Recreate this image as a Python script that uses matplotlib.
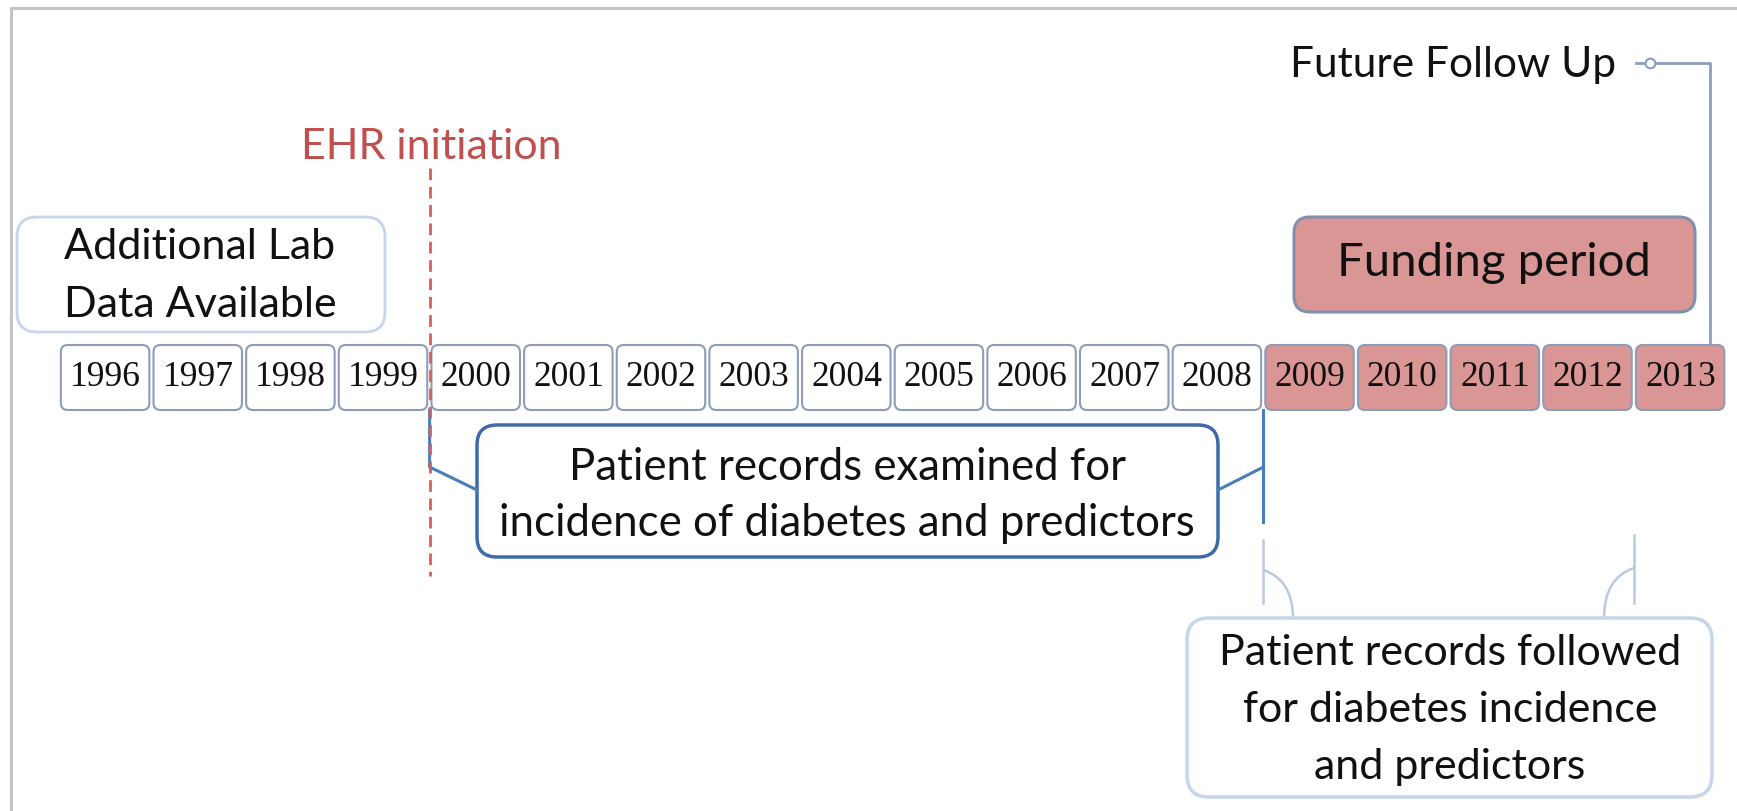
import matplotlib
matplotlib.use("Agg")
import matplotlib.pyplot as plt
from matplotlib.patches import FancyBboxPatch, PathPatch
from matplotlib.path import Path

# ---------------- data ----------------
years = list(range(1996, 2014))
funding_years = [2009, 2010, 2011, 2012, 2013]
ehr_year = 2000
examined_span = (2000, 2009)
followed_span = (2009, 2013)
future_label = "Future Follow Up"
ehr_label = "EHR initiation"
lab_lines = ["Additional Lab", "Data Available"]
funding_label = "Funding period"
examined_lines = ["Patient records examined for",
                  "incidence of diabetes and predictors"]
followed_lines = ["Patient records followed",
                  "for diabetes incidence",
                  "and predictors"]

# ---------------- layout ----------------
W, H = 1737, 811
PX0, PITCH = 59.0, 92.65          # pixel of year 1996 start, pixels per year
SANS = "Lato"
SERIF = "Liberation Serif"


def X(px):
    return 1996 + (px - PX0) / PITCH


fig = plt.figure(figsize=(W / 100, H / 100), dpi=100)
ax = fig.add_axes([0, 0, 1, 1])
ax.set_xlim(X(0), X(W))
ax.set_ylim(H, 0)
ax.axis("off")


def rbox(x0, y0, w, h, r, **kw):
    p = FancyBboxPatch((X(x0), y0), w / PITCH, h,
                       boxstyle=f"round,pad=0,rounding_size={r / PITCH}",
                       mutation_aspect=PITCH, **kw)
    ax.add_patch(p)
    return p


# frame
ax.plot([X(11), X(11), X(W + 5)], [H + 5, 8, 8], color="#c4c4c4", lw=2.2,
        solid_capstyle="butt", zorder=1)

# year boxes
for yr in years:
    fc = "#d99694" if yr in funding_years else "white"
    p = FancyBboxPatch((yr + 0.02, 345), 0.955, 65,
                       boxstyle=f"round,pad=0,rounding_size={7 / PITCH}",
                       mutation_aspect=PITCH, fc=fc, ec="#8d9cb8", lw=1.5,
                       zorder=2)
    ax.add_patch(p)
    ax.text(yr + 0.5, 377, str(yr), ha="center", va="center",
            fontsize=25.5, family=SERIF, color="#111111", zorder=3)

# Additional lab box
rbox(17, 217, 368, 115, 20, fc="white", ec="#c6d5e9", lw=2, zorder=2)
for txt, y in zip(lab_lines, [247, 305]):
    ax.text(X(200), y, txt, ha="center", va="center", fontsize=31,
            family=SANS, color="#111111", zorder=3)

# EHR initiation
ax.text(X(431), 147, ehr_label, ha="center", va="center", fontsize=31,
        family=SANS, color="#c0504d", zorder=3)
ax.plot([ehr_year, ehr_year], [168, 576], color="#d65f5c", lw=2,
        dashes=(4.2, 2.4), zorder=6)

# Funding period
rbox(1294, 217, 401, 95, 16, fc="#d99694", ec="#8190ae", lw=2.2, zorder=2)
ax.text(X(1494), 263, funding_label, ha="center", va="center", fontsize=34,
        family=SANS, color="#111111", zorder=3)

# Future follow up
ax.text(X(1616), 65, future_label, ha="right", va="center", fontsize=30.5,
        family=SANS, color="#111111", zorder=3)
ax.plot([X(1636), X(1710), X(1710)], [63, 63, 345], color="#8e9dbb", lw=2,
        zorder=1)
ax.plot([X(1650)], [63], "o", ms=7, mfc="white", mec="#8e9dbb", mew=1.5,
        zorder=4)

# Examined box + brackets
ex_c = "#4a7ebb"
a, b = examined_span
ax.plot([a, a, X(477)], [410, 467, 490], color=ex_c, lw=2.2, zorder=4)
ax.plot([b, b], [410, 522], color=ex_c, lw=2.2, zorder=4)
ax.plot([b, X(1218)], [467, 490], color=ex_c, lw=2.2, zorder=4)
rbox(477, 425, 741, 132, 20, fc="white", ec="#3d6aa9", lw=2.5, zorder=3)
for txt, y in zip(examined_lines, [467, 524]):
    ax.text(X(847), y, txt, ha="center", va="center", fontsize=31.5,
            family=SANS, color="#111111", zorder=5)

# Followed box + brackets
fo_c = "#b8cae2"
a, b = followed_span
ax.plot([a, a], [540, 603], color=fo_c, lw=1.8, zorder=2)
ax.plot([b, b], [535, 603], color=fo_c, lw=1.8, zorder=2)
for start, ctrl, end in [((a, 570), (X(1293), 580), (X(1293), 618)),
                         ((b, 568), (X(1604), 578), (X(1604), 618))]:
    path = Path([start, ctrl, end], [Path.MOVETO, Path.CURVE3, Path.CURVE3])
    ax.add_patch(PathPatch(path, fc="none", ec=fo_c, lw=1.8, zorder=2))
rbox(1187, 618, 525, 179, 22, fc="white", ec="#c6d5e9", lw=2.5, zorder=3)
for txt, y in zip(followed_lines, [653, 710, 767]):
    ax.text(X(1450), y, txt, ha="center", va="center", fontsize=31,
            family=SANS, color="#111111", zorder=5)

fig.savefig("out.png", dpi=100, facecolor="white")
